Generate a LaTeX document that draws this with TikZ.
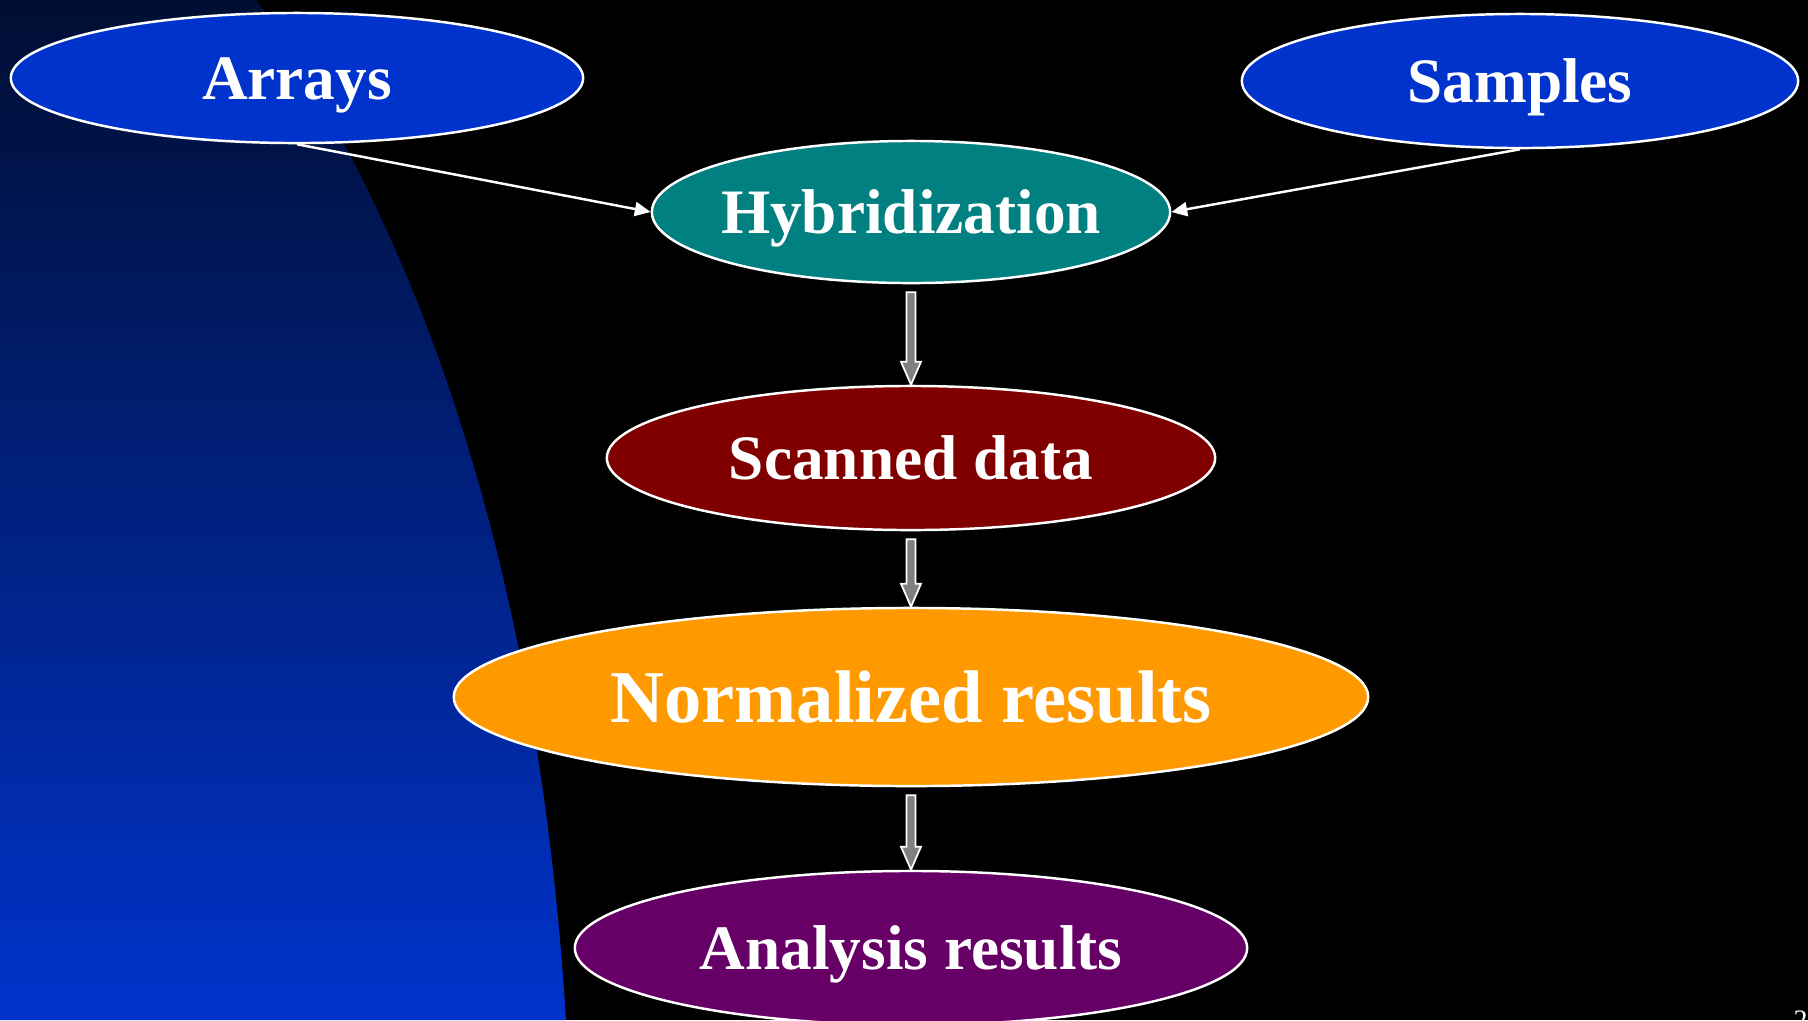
\documentclass[tikz,border=0pt]{standalone}
\usepackage{fontspec}
\setmainfont{Liberation Serif}
\usetikzlibrary{shapes.geometric,arrows.meta,calc}
\definecolor{slideblue}{RGB}{0,51,204}
\definecolor{slidenavy}{RGB}{0,14,50}
\definecolor{slidemid}{RGB}{0,40,165}
\definecolor{hybteal}{RGB}{0,128,128}
\definecolor{scanred}{RGB}{128,0,0}
\definecolor{normorange}{RGB}{255,153,0}
\definecolor{anapurple}{RGB}{102,0,102}
\begin{document}
\begin{tikzpicture}[x=0.01cm,y=-0.01cm,
        stage/.style={ellipse,draw=white,line width=0.7pt,inner sep=0pt},
        stagetxt/.style={text=white,inner sep=0pt,text height=0.43cm,text depth=0pt,
                         font=\fontsize{18}{20}\selectfont\bfseries},
        bigtxt/.style={stagetxt,text height=0.5cm,font=\fontsize{21.2}{24}\selectfont\bfseries},
        feed/.style={draw=white,line width=0.7pt,-{Triangle[length=4.5pt,width=4pt]}},
        blockarr/.style={draw=white,line width=0.5pt,fill=gray}]
        \useasboundingbox (0,0) rectangle (1808,1020);
        \fill[black] (0,0) rectangle (1808,1020);
        \shade[top color=slidenavy,middle color=slidemid,bottom color=slideblue]
                (0,0) -- (256,0) .. controls (435,255) and (540,600) .. (566,1020)
                -- (0,1020) -- cycle;
        \node[stage,fill=slideblue,minimum width=5.72cm,minimum height=1.30cm,
              label={[stagetxt]center:Arrays}] (arrays) at (297,78) {};
        \node[stage,fill=slideblue,minimum width=5.56cm,minimum height=1.34cm,
              label={[stagetxt]center:Samples}] (samples) at (1520,81) {};
        \node[stage,fill=hybteal,minimum width=5.18cm,minimum height=1.42cm,
              label={[stagetxt]center:Hybridization}] (hyb) at (911,212) {};
        \node[stage,fill=scanred,minimum width=6.08cm,minimum height=1.44cm,
              label={[stagetxt]center:Scanned data}] (scan) at (911,458) {};
        \node[stage,fill=normorange,minimum width=9.14cm,minimum height=1.78cm,
              label={[bigtxt]center:Normalized results}] (norm) at (911,697) {};
        \node[stage,fill=anapurple,minimum width=6.72cm,minimum height=1.54cm,
              label={[stagetxt]center:Analysis results}] (ana) at (911,948) {};
        \draw[feed] (arrays.south) -- (hyb.west);
        \draw[feed] (samples.south) -- (hyb.east);
        % block arrows down the chain
        \foreach \a/\b in {hyb/scan,scan/norm,norm/ana}
          \draw[blockarr] ($(\a.south)+(-4.5,8)$) -- ($(\a.south)+(4.5,8)$)
                -- ($(\b.north)+(4.5,-23)$) -- ($(\b.north)+(10,-23)$) -- (\b.north)
                -- ($(\b.north)+(-10,-23)$) -- ($(\b.north)+(-4.5,-23)$) -- cycle;
        \node[text=white,anchor=north west,inner sep=0pt,font=\fontsize{8}{9}\selectfont] (pagenum) at (1793,1010) {2};
\end{tikzpicture}
\end{document}
